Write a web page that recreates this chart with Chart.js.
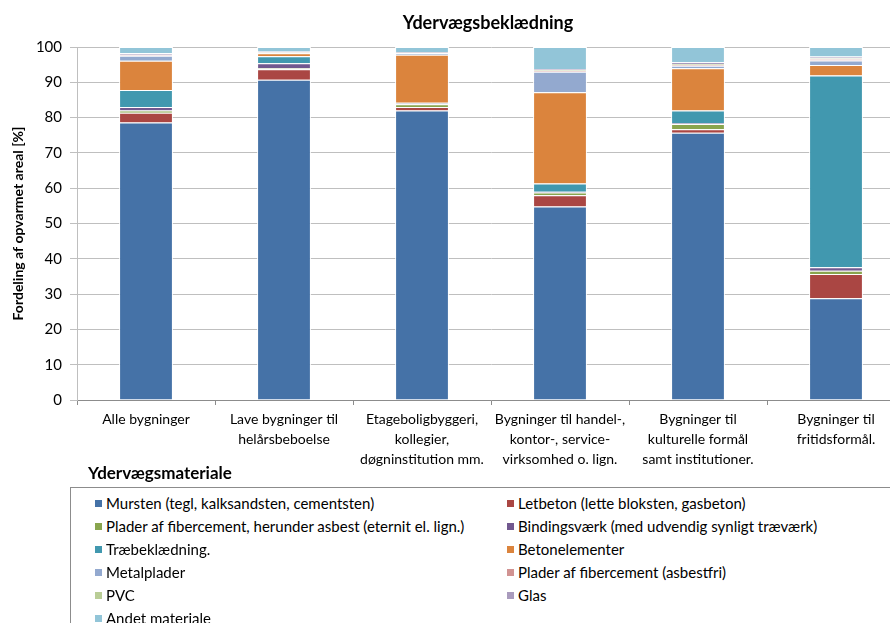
<!DOCTYPE html>
<html>
<head>
<meta charset="utf-8">
<script src="https://cdn.jsdelivr.net/npm/chart.js@4"></script>
<style>
  html, body { margin: 0; padding: 0; background: #fff; overflow: hidden; }
  body { width: 890px; height: 623px; position: relative; font-family: Lato, "Liberation Sans", sans-serif; }
  #wrap { position: absolute; left: 0; top: 0; width: 905px; height: 468px; }
  #legend-title { position: absolute; left: 88px; top: 463px; font-weight: bold; font-size: 17px; line-height: 20px; color: #000; }
  #legend-box { position: absolute; left: 70px; top: 487px; width: 840px; height: 150px; border: 1px solid #8c8c8c; box-sizing: border-box; }
  .item { position: absolute; font-size: 15px; color: #000; white-space: nowrap; line-height: 16px; }
  .item span.sw { display: inline-block; width: 7px; height: 7px; margin-right: 4px; vertical-align: 2px; }
</style>
</head>
<body>
<div id="wrap"><canvas id="chart" width="905" height="468"></canvas></div>
<div id="legend-title">Ydervægsmateriale</div>
<div id="legend-box"></div>
<script>
/* ---------- data ---------- */
const categories = [
    "Alle bygninger",
    ["Lave bygninger til", "helårsbeboelse"],
    ["Etageboligbyggeri,", "kollegier,", "døgninstitution mm."],
    ["Bygninger til handel-,", "kontor-, service-", "virksomhed o. lign."],
    ["Bygninger til", "kulturelle formål", "samt institutioner."],
    ["Bygninger til", "fritidsformål."]
];

const materials = [
    "Mursten (tegl, kalksandsten, cementsten)",
    "Letbeton (lette bloksten, gasbeton)",
    "Plader af fibercement, herunder asbest (eternit el. lign.)",
    "Bindingsværk (med udvendig synligt træværk)",
    "Træbeklædning.",
    "Betonelementer",
    "Metalplader",
    "Plader af fibercement (asbestfri)",
    "PVC",
    "Glas",
    "Andet materiale"
];

const murstenValues     = [78.6, 90.7, 82.0, 54.8, 75.7, 28.8];
const letbetonValues    = [2.8, 3.0, 1.0, 3.2, 1.0, 6.9];
const fibercementValues = [0.6, 0.3, 0.8, 0.8, 1.5, 0.9];
const bindingsvaerkValues = [1.0, 1.4, 0.2, 0.2, 0.2, 1.0];
const traeValues        = [4.8, 2.0, 0.2, 2.3, 3.6, 54.3];
const betonValues       = [8.3, 0.8, 13.6, 25.9, 12.0, 3.0];
const metalValues       = [1.4, 0.2, 0.4, 5.8, 0.7, 1.3];
const asbestfriValues   = [0.2, 0.1, 0.1, 0.3, 0.2, 0.4];
const pvcValues         = [0.1, 0.1, 0.1, 0.2, 0.3, 0.2];
const glasValues        = [0.5, 0.1, 0.2, 0.3, 0.5, 0.5];
const andetValues       = [1.7, 1.3, 1.4, 6.2, 4.3, 2.7];

const seriesValues = [
    murstenValues, letbetonValues, fibercementValues, bindingsvaerkValues,
    traeValues, betonValues, metalValues, asbestfriValues,
    pvcValues, glasValues, andetValues
];

const colors = [
    "#4572A7", "#AA4643", "#89A54E", "#71588F", "#4198AF", "#DB843D",
    "#93A9CF", "#D19392", "#B9CD96", "#A99BBD", "#92C5D8"
];

const yTicks = [0, 10, 20, 30, 40, 50, 60, 70, 80, 90, 100];

const chartTitle = "Ydervægsbeklædning";

/* ---------- chart ---------- */
const FONT = "Lato, 'Liberation Sans', sans-serif";

const datasets = materials.map((name, i) => ({
    label: name,
    data: seriesValues[i],
    backgroundColor: colors[i],
    borderColor: "#ffffff",
    borderWidth: 1,
    barPercentage: 0.39,
    categoryPercentage: 1.0
}));

// title is placed over the visible part of the plot, not the whole canvas
const titlePlugin = {
    id: "offsetTitle",
    afterDraw(chart) {
        const ctx = chart.ctx;
        ctx.save();
        ctx.font = "bold 18px " + FONT;
        ctx.fillStyle = "#000";
        ctx.textAlign = "center";
        ctx.textBaseline = "middle";
        ctx.fillText(chartTitle, 488, 23);
        ctx.restore();
    }
};

new Chart(document.getElementById("chart").getContext("2d"), {
    type: "bar",
    data: { labels: categories, datasets },
    plugins: [titlePlugin],
    options: {
        responsive: false,
        animation: false,
        layout: { padding: { left: 0, right: 0, top: 47, bottom: 0 } },
        scales: {
            x: {
                stacked: true,
                grid: { drawOnChartArea: false, drawTicks: true, tickLength: 5, color: "#8c8c8c" },
                border: { color: "#8c8c8c" },
                ticks: {
                    color: "#000",
                    font: { family: FONT, size: 14, lineHeight: 1.4 },
                    maxRotation: 0,
                    autoSkip: false,
                    padding: 5
                },
                afterFit: scale => { scale.height = 68; }
            },
            y: {
                stacked: true,
                min: 0,
                max: 100,
                afterBuildTicks: scale => { scale.ticks = yTicks.map(v => ({ value: v })); },
                grid: { color: "#bfbfbf", drawTicks: true, tickLength: 7, lineWidth: 1 },
                border: { display: true, color: "#bfbfbf" },
                ticks: { color: "#000", font: { family: FONT, size: 15 }, padding: 8 },
                title: {
                    display: true,
                    text: "Fordeling af opvarmet areal [%]",
                    color: "#000",
                    font: { family: FONT, size: 14, weight: "bold" },
                    padding: { top: 10, bottom: 0 }
                },
                afterFit: scale => { scale.width = 77; }
            }
        },
        plugins: {
            legend: { display: false },
            tooltip: { enabled: false },
            title: { display: false }
        }
    }
});

/* ---------- legend (two columns, like the original) ---------- */
const box = document.getElementById("legend-box");
materials.forEach((name, i) => {
    const row = Math.floor(i / 2);
    const col = i % 2;
    const el = document.createElement("div");
    el.className = "item";
    el.style.left = (col === 0 ? 24 : 436) + "px";
    el.style.top = (7 + row * 23) + "px";
    el.innerHTML = '<span class="sw" style="background:' + colors[i] + '"></span>';
    el.appendChild(document.createTextNode(name));
    box.appendChild(el);
});
</script>
</body>
</html>
